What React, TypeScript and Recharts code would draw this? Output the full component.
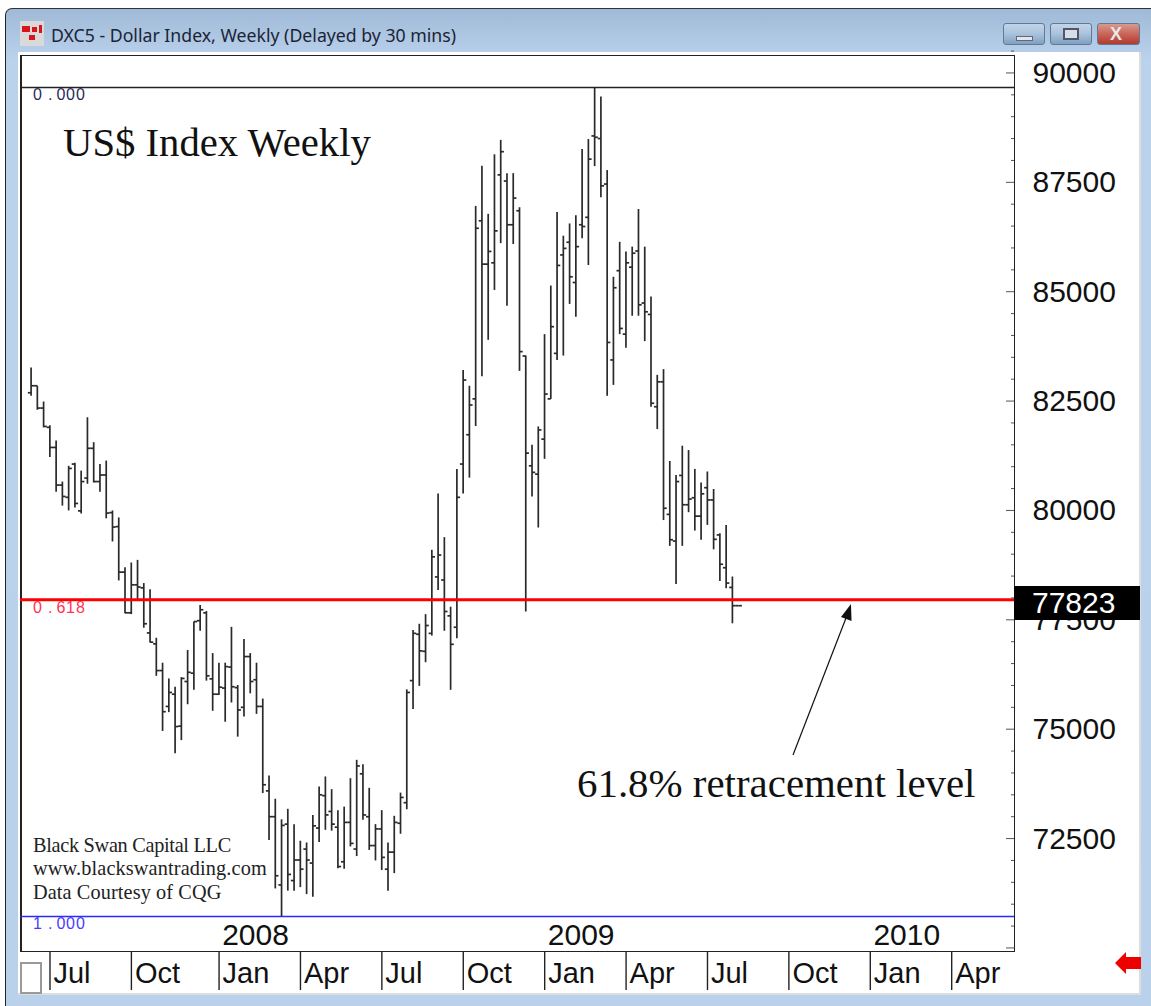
import { ComposedChart, Bar, XAxis, YAxis, ReferenceLine } from 'recharts';

const HIGHS = [
  83270, 82850, 82490, 81950, 81600, 80660, 81020, 81090, 80910, 82130,
  81560, 81060, 81140, 80000, 79840, 78700, 78810, 78870, 78340, 78200,
  77090, 76520, 76160, 75970, 76190, 76810, 77460, 77840, 77700, 76740,
  76520, 76520, 77340, 76010, 77060, 76740, 76520, 75700, 73940, 73410,
  72940, 73180, 72830, 72450, 72410, 73040, 73690, 73920, 73630, 73150,
  73230, 73880, 74300, 74200, 73660, 72830, 73150, 72410, 73020, 73550,
  75910, 77270, 77410, 77630, 79100, 80390, 79390, 77800, 80950, 83210,
  82850, 86960, 87880, 86780, 88140, 88470, 87710, 87710, 86930, 83540,
  81500, 81920, 84030, 85140, 86820, 86280, 86560, 86750, 88260, 88490,
  89670, 89460, 87780, 85340, 86140, 85920, 86030, 86890, 86030, 84890,
  83100, 83230, 81130, 80810, 81480, 81380, 80950, 80640, 80890, 80490,
  79480, 79670, 78490, 77823,
];
const LOWS = [
  82620, 82300, 81900, 81220, 80430, 80110, 80000, 80070, 79930, 80610,
  80640, 80430, 79820, 79290, 78400, 77650, 77630, 77950, 77320, 76980,
  76220, 74960, 75390, 74450, 74750, 75570, 75900, 77250, 76110, 75420,
  75780, 75170, 75610, 74830, 75290, 75820, 75350, 73540, 72470, 71360,
  70730, 71310, 71310, 71390, 71230, 71170, 72420, 72700, 72680, 71820,
  71810, 72320, 72100, 72930, 72240, 72000, 71780, 71310, 71710, 72610,
  73170, 75460, 75990, 76530, 77140, 78180, 77250, 75900, 77080, 80390,
  80750, 81930, 83070, 83900, 85040, 86110, 84680, 86090, 83190, 77690,
  80320, 79610, 81180, 82550, 83440, 83540, 84720, 84430, 86220, 85610,
  87870, 87160, 82620, 82870, 84030, 83720, 84450, 84450, 83870, 82370,
  81860, 79780, 79190, 78320, 79190, 79960, 79540, 79330, 79670, 79110,
  78390, 78220, 77420, 77823,
];
const OPENS = [
  82690, 82850, 82340, 81900, 81440, 80580, 80300, 81060, 79990, 80740,
  81420, 80660, 80810, 79950, 79630, 78590, 77660, 78300, 78230, 77200,
  76950, 76340, 75520, 75800, 75070, 76090, 76280, 77480, 77660, 76150,
  75800, 75940, 76420, 75950, 75500, 76660, 76130, 75520, 73590, 73000,
  71440, 72830, 71540, 72010, 72260, 71940, 72740, 73480, 73120, 72760,
  71970, 72870, 72260, 73980, 73000, 72340, 72720, 71800, 72190, 72850,
  73320, 76110, 77170, 76780, 77190, 78480, 78410, 77590, 77330, 81060,
  81730, 82550, 86620, 85630, 85660, 87670, 87530, 86530, 86850, 83530,
  81020, 80830, 81630, 82550, 83590, 85840, 86130, 85210, 86530, 86700,
  88560, 88500, 87460, 83440, 85480, 84030, 85560, 85930, 84740, 84480,
  82370, 82940, 79910, 79300, 80800, 80130, 80290, 79870, 80520, 80240,
  79440, 78690, 78240, 77823,
];
const CLOSES = [
  82850, 82340, 81920, 81440, 80580, 80320, 80960, 80160, 80660, 81420,
  80660, 80810, 79940, 79620, 78590, 77660, 78300, 78250, 77410, 76990,
  76340, 75400, 75840, 75060, 76160, 76300, 77460, 77730, 76220, 75800,
  75960, 76430, 75970, 75440, 76660, 76090, 75520, 73730, 73000, 71650,
  72800, 71680, 72010, 71800, 72010, 72790, 73500, 73040, 72830, 71860,
  72870, 72390, 74160, 73040, 72340, 72720, 72070, 72190, 72870, 73440,
  75840, 77190, 76790, 77370, 78940, 78980, 77690, 76940, 80300, 82980,
  82410, 86450, 85630, 85920, 86390, 88200, 86530, 87140, 83630, 81310,
  80870, 81840, 82660, 84200, 85600, 85990, 85340, 86030, 86490, 88030,
  88530, 87420, 83840, 85090, 84160, 85660, 85880, 84700, 84540, 82450,
  82940, 80050, 79330, 80660, 80130, 80260, 79870, 80380, 80240, 79340,
  78770, 78340, 77823, 77823,
];

const MONTH_WEEKS = [3, 16, 30, 43, 56, 69, 82, 95, 108, 121, 134, 147];
const MONTH_LABELS = ['Jul', 'Oct', 'Jan', 'Apr', 'Jul', 'Oct', 'Jan', 'Apr', 'Jul', 'Oct', 'Jan', 'Apr'];
const YEAR_LABELS: Record<number, string> = { 30: '2008', 82: '2009', 134: '2010' };

const PRICE_TICKS = [
  70000, 70500, 71000, 71500, 72000, 72500, 73000, 73500, 74000, 74500, 75000, 75500, 76000, 76500,
  77000, 77500, 78000, 78500, 79000, 79500, 80000, 80500, 81000, 81500, 82000, 82500, 83000, 83500,
  84000, 84500, 85000, 85500, 86000, 86500, 87000, 87500, 88000, 88500, 89000, 89500, 90000, 90500,
];
const PRICE_LABELS = [72500, 75000, 77500, 80000, 82500, 85000, 87500, 90000];
const MAJOR_TICKS = [70000, ...PRICE_LABELS];

const FIB_TOP = 89670;
const FIB_618 = 77960;
const FIB_BOTTOM = 70720;
const LAST_PRICE = '77823';

const rows = HIGHS.map((high, i) => ({
  week: i,
  high,
  low: LOWS[i],
  open: OPENS[i],
  close: CLOSES[i],
  range: [LOWS[i], high],
}));

const SANS = '"Liberation Sans", Arial, sans-serif';
const SERIF = '"Liberation Serif", "Times New Roman", serif';
const BAR_COLOR = '#2a2a2a';

function OhlcBar(props: any) {
  const { x, y, width, height, payload } = props;
  const cx = x + width / 2;
  const span = payload.high - payload.low;
  const perUnit = span > 0 ? height / span : 0;
  const openY = y + (payload.high - payload.open) * perUnit;
  const closeY = y + (payload.high - payload.close) * perUnit;
  return (
    <g stroke={BAR_COLOR} strokeWidth={1.7}>
      <line x1={cx} x2={cx} y1={y} y2={y + height} />
      <line x1={cx - 3.2} x2={cx} y1={openY} y2={openY} />
      <line x1={cx} x2={cx + 3.2} y1={closeY} y2={closeY} />
    </g>
  );
}

function PriceTickRight({ x, y, payload }: any) {
  const major = MAJOR_TICKS.includes(payload.value);
  return (
    <g>
      <line x1={x - (major ? 8 : 3)} x2={x} y1={y} y2={y} stroke="#555" strokeWidth={1} />
      {PRICE_LABELS.includes(payload.value) && (
        <text x={x + 18.5} y={y + 10} fontFamily={SANS} fontSize={30} fill="#111">
          {payload.value}
        </text>
      )}
    </g>
  );
}

function PriceTickLeft({ x, y, payload }: any) {
  const major = MAJOR_TICKS.includes(payload.value);
  return <line x1={x} x2={x + (major ? 8 : 3)} y1={y} y2={y} stroke="#555" strokeWidth={1} />;
}

function MonthTick({ x, y, payload }: any) {
  const idx = MONTH_WEEKS.indexOf(payload.value);
  const year = YEAR_LABELS[payload.value];
  return (
    <g>
      <line x1={x} x2={x} y1={y} y2={y + 39} stroke="#222" strokeWidth={1.4} />
      <text x={x + 3.5} y={y + 31.5} fontFamily={SANS} fontSize={29} fill="#111">
        {MONTH_LABELS[idx]}
      </text>
      {year && (
        <text x={x + 36.5} y={y - 6} textAnchor="middle" fontFamily={SANS} fontSize={30} fill="#111">
          {year}
        </text>
      )}
    </g>
  );
}

function FibLabel({ text, color, viewBox }: any) {
  const left = viewBox.x + 13;
  return (
    <text
      x={`${left} ${left + 15} ${left + 23.5} ${left + 33} ${left + 43}`}
      y={viewBox.y + 13}
      fontFamily={SANS}
      fontSize={16}
      fill={color}
    >
      {text}
    </text>
  );
}

function WinButton({ left, width, bg, children }: any) {
  return (
    <div
      style={{
        position: 'absolute',
        left,
        top: 23,
        width,
        height: 22,
        borderRadius: 3,
        border: '1px solid #5f7a98',
        boxSizing: 'border-box',
        background: bg,
      }}
    >
      {children}
    </div>
  );
}

export default function App() {
  return (
    <div style={{ position: 'absolute', left: 0, top: 0, width: 1151, height: 1006, background: '#fff', overflow: 'hidden' }}>
      {/* window chrome */}
      <div
        style={{
          position: 'absolute',
          left: 5,
          top: 8,
          width: 1150,
          height: 1010,
          boxSizing: 'border-box',
          borderLeft: '1px solid #222',
          borderTop: '1px solid #333',
          borderTopLeftRadius: 7,
          background: 'linear-gradient(#9fb9d6 0, #bad2ec 50px, #b9d1eb 100%)',
        }}
      />
      <div style={{ position: 'absolute', left: 18, top: 52, width: 1123, height: 943, background: '#fff', borderRight: '2px solid #ddd', borderBottom: '2px solid #ddd', boxSizing: 'border-box' }} />
      <div style={{ position: 'absolute', left: 20, top: 21, width: 24, height: 25, background: '#d9d9d9' }}>
        <div style={{ position: 'absolute', left: 2, top: 5, width: 8, height: 6, background: '#d8141c' }} />
        <div style={{ position: 'absolute', left: 12, top: 6, width: 5, height: 5, background: '#d8141c' }} />
        <div style={{ position: 'absolute', left: 19, top: 4, width: 3, height: 8, background: '#d8141c' }} />
        <div style={{ position: 'absolute', left: 9, top: 14, width: 6, height: 5, background: '#d8141c' }} />
      </div>
      <div style={{ position: 'absolute', left: 51, top: 23, fontFamily: '"Noto Sans", sans-serif', fontSize: 17.7, lineHeight: '24px', color: '#1b2436', whiteSpace: 'nowrap' }}>
        DXC5 - Dollar Index, Weekly (Delayed by 30 mins)
      </div>
      <WinButton left={1003} width={42} bg="linear-gradient(#c3d5e8, #a9c2dc 50%, #7f9fc0)">
        <div style={{ position: 'absolute', left: 12, top: 12, width: 17, height: 5, background: '#dfe6ee', border: '1px solid #667', boxSizing: 'border-box' }} />
      </WinButton>
      <WinButton left={1050} width={42} bg="linear-gradient(#c3d5e8, #a9c2dc 50%, #7f9fc0)">
        <div style={{ position: 'absolute', left: 12, top: 4, width: 16, height: 12, border: '2px solid #556', background: '#d5dfe9', boxSizing: 'border-box' }} />
      </WinButton>
      <WinButton left={1097} width={43} bg="linear-gradient(#d99a8e, #c9655a 50%, #b23a30)">
        <div style={{ position: 'absolute', left: 12, top: 1, fontFamily: SANS, fontWeight: 700, fontSize: 18, lineHeight: '18px', color: '#e8e8e8' }}>X</div>
      </WinButton>

      {/* plot frame */}
      <div style={{ position: 'absolute', left: 20, top: 55, width: 995, height: 897, boxSizing: 'border-box', border: '1.5px solid #222', borderLeftWidth: 2 }} />

      <div style={{ position: 'absolute', left: 0, top: 0 }}>
        <ComposedChart width={1151} height={1006} data={rows} margin={{ top: 55, right: 0, bottom: 0, left: 0 }}>
          <XAxis
            dataKey="week"
            type="number"
            domain={[-1.79, 156.95]}
            ticks={MONTH_WEEKS}
            interval={0}
            height={55}
            tickSize={0}
            tickMargin={0}
            axisLine={false}
            tickLine={false}
            tick={MonthTick}
          />
          <YAxis
            yAxisId="left"
            orientation="left"
            type="number"
            domain={[69930, 90410]}
            ticks={PRICE_TICKS}
            interval={0}
            width={20}
            tickSize={0}
            tickMargin={0}
            axisLine={false}
            tickLine={false}
            tick={PriceTickLeft}
          />
          <YAxis
            yAxisId="right"
            orientation="right"
            type="number"
            domain={[69930, 90410]}
            ticks={PRICE_TICKS}
            interval={0}
            width={137}
            tickSize={0}
            tickMargin={0}
            axisLine={false}
            tickLine={false}
            tick={PriceTickRight}
          />
          <Bar yAxisId="right" dataKey="range" barSize={2} isAnimationActive={false} shape={OhlcBar} />
          <ReferenceLine
            yAxisId="right"
            y={FIB_TOP}
            stroke="#222"
            strokeWidth={1.5}
            label={(p: any) => <FibLabel {...p} text="0.000" color="#2a2a5a" />}
          />
          <ReferenceLine
            yAxisId="right"
            y={FIB_618}
            stroke="#ff0000"
            strokeWidth={3}
            label={(p: any) => <FibLabel {...p} text="0.618" color="#ff3355" />}
          />
          <ReferenceLine
            yAxisId="right"
            y={FIB_BOTTOM}
            stroke="#2a2aff"
            strokeWidth={1.5}
            label={(p: any) => <FibLabel {...p} text="1.000" color="#4a3cff" />}
          />
        </ComposedChart>
      </div>

      {/* annotations */}
      <div style={{ position: 'absolute', left: 63, top: 120, fontFamily: SERIF, fontSize: 40.7, lineHeight: '46px', color: '#111', whiteSpace: 'nowrap' }}>
        US$ Index Weekly
      </div>
      <div style={{ position: 'absolute', left: 577, top: 760, fontFamily: SERIF, fontSize: 40.9, lineHeight: '48px', color: '#111', whiteSpace: 'nowrap' }}>
        61.8% retracement level
      </div>
      <div style={{ position: 'absolute', left: 33, top: 834, fontFamily: SERIF, fontSize: 20.3, lineHeight: '23.3px', color: '#222', whiteSpace: 'nowrap' }}>
        <span style={{ letterSpacing: -0.3 }}>Black Swan Capital LLC</span>
        <br />
        <span style={{ letterSpacing: 0.13 }}>www.blackswantrading.com</span>
        <br />
        <span style={{ letterSpacing: 0.1 }}>Data Courtesy of CQG</span>
      </div>
      <svg width={1151} height={1006} style={{ position: 'absolute', left: 0, top: 0, pointerEvents: 'none' }}>
        <line x1={793} y1={755} x2={846} y2={618} stroke="#111" strokeWidth={1.2} />
        <polygon points="851,604 851.5,621 841,617" fill="#111" />
        <polygon points="1115,963 1126,952 1126,957 1141,957 1141,969 1126,969 1126,974" fill="#ee0000" />
      </svg>

      {/* last price box */}
      <div style={{ position: 'absolute', left: 1014, top: 585.5, width: 126, height: 34.5, background: '#000', color: '#fff', fontFamily: SANS, fontSize: 30, lineHeight: '34.5px', paddingLeft: 18, boxSizing: 'border-box' }}>
        {LAST_PRICE}
      </div>

      {/* scroll box */}
      <div style={{ position: 'absolute', left: 20, top: 962, width: 22, height: 32, boxSizing: 'border-box', border: '2px solid #9a9a9a', background: '#fff' }} />
    </div>
  );
}
